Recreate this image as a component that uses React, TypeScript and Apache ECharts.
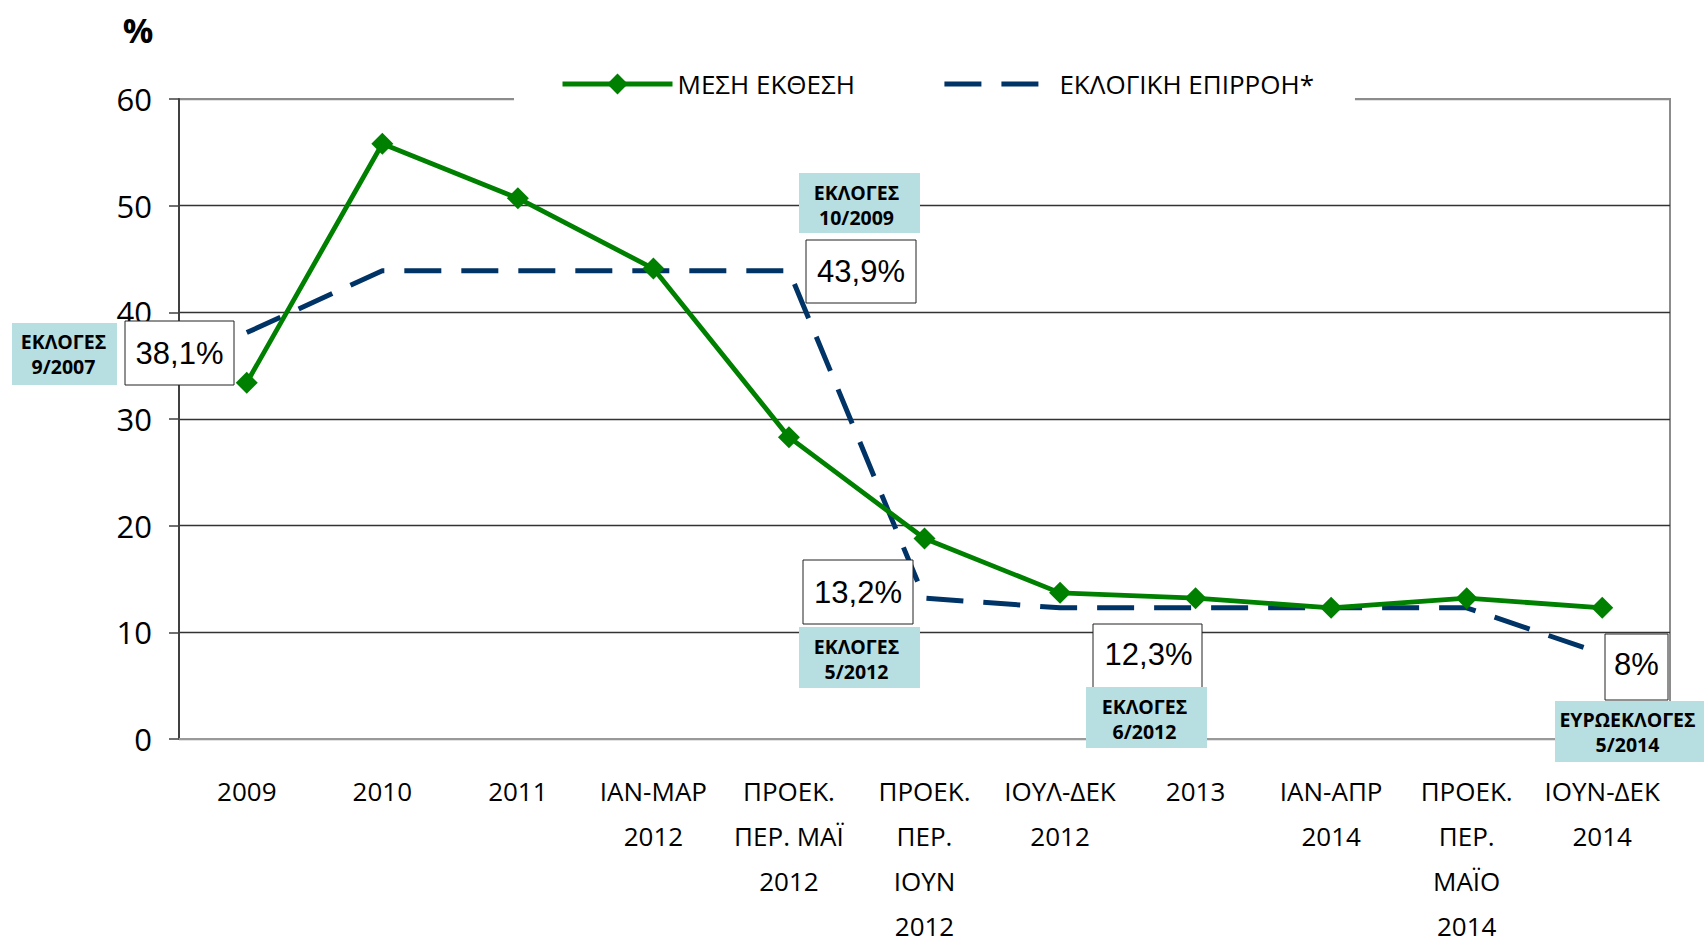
import React, { useEffect, useRef } from "react";
import * as echarts from "echarts";

// ---- data ----
const categories = [
  "2009",
  "2010",
  "2011",
  "ΙΑΝ-ΜΑΡ\n2012",
  "ΠΡΟΕΚ.\nΠΕΡ. ΜΑΪ\n2012",
  "ΠΡΟΕΚ.\nΠΕΡ.\nΙΟΥΝ\n2012",
  "ΙΟΥΛ-ΔΕΚ\n2012",
  "2013",
  "ΙΑΝ-ΑΠΡ\n2014",
  "ΠΡΟΕΚ.\nΠΕΡ.\nΜΑΪΟ\n2014",
  "ΙΟΥΝ-ΔΕΚ\n2014",
];
const averageExposure = [33.4, 55.8, 50.7, 44.1, 28.3, 18.8, 13.7, 13.2, 12.3, 13.2, 12.3];
const electoralInfluence = [38.1, 43.9, 43.9, 43.9, 43.9, 13.2, 12.3, 12.3, 12.3, 12.3, 8];
const seriesNames = ["ΜΕΣΗ ΕΚΘΕΣΗ", "ΕΚΛΟΓΙΚΗ ΕΠΙΡΡΟΗ*"];
const yMin = 0;
const yMax = 60;
const yInterval = 10;
const unitLabel = "%";
const electionLabels = [
  "ΕΚΛΟΓΕΣ\n9/2007",
  "ΕΚΛΟΓΕΣ\n10/2009",
  "ΕΚΛΟΓΕΣ\n5/2012",
  "ΕΚΛΟΓΕΣ\n6/2012",
  "ΕΥΡΩΕΚΛΟΓΕΣ\n5/2014",
];
const influenceLabels = ["38,1%", "43,9%", "13,2%", "12,3%", "8%"];

// ---- layout (annotation boxes, pixels) ----
const electionBoxes = [
  { x: 12, y: 323, w: 105, h: 62, dx: -1, dy: 0 },
  { x: 799, y: 173, w: 121, h: 60, dx: -3, dy: 2 },
  { x: 799, y: 627, w: 121, h: 61, dx: -3, dy: 1 },
  { x: 1086, y: 687, w: 121, h: 61, dx: -2, dy: 1 },
  { x: 1555, y: 701, w: 149, h: 61, dx: -2, dy: 0 },
];
const influenceBoxes = [
  { x: 125, y: 321, w: 109, h: 64, dx: 0, dy: 0 },
  { x: 806, y: 240, w: 110, h: 63, dx: 0, dy: 0 },
  { x: 803, y: 560, w: 110, h: 64, dx: 0, dy: 0 },
  { x: 1093, y: 624, w: 109, h: 66, dx: 1, dy: -3 },
  { x: 1605, y: 634, w: 63, h: 66, dx: 0, dy: -3 },
];

const FONT = '"Open Sans", "Noto Sans", sans-serif';
const GREEN = "#008000";
const NAVY = "#003366";
const TEAL = "#B7DEE0";

export default function App() {
  const ref = useRef<HTMLDivElement>(null);

  useEffect(() => {
    document.body.style.margin = "0";
    document.body.style.overflow = "hidden";
    if (!ref.current) return;
    const chart = echarts.init(ref.current, undefined, { renderer: "svg" });

    const graphics: any[] = [];
    graphics.push({
      type: "text",
      x: 138,
      y: 30,
      z: 120,
      style: {
        text: unitLabel,
        fontSize: 34,
        fontWeight: "bold",
        fontFamily: FONT,
        fill: "#000",
        align: "center",
        verticalAlign: "middle",
        textAlign: "center",
        textVerticalAlign: "middle",
      },
    });
    influenceBoxes.forEach((b, i) => {
      graphics.push({
        type: "rect",
        z: 100,
        shape: { x: b.x, y: b.y, width: b.w, height: b.h },
        style: { fill: "#fff", stroke: "#222", lineWidth: 1 },
      });
      graphics.push({
        type: "text",
        z: 101,
        x: b.x + b.w / 2 + b.dx,
        y: b.y + b.h / 2 + b.dy,
        style: {
          text: influenceLabels[i],
          fontSize: 31,
          fontFamily: '"Liberation Sans", Arial, sans-serif',
          fill: "#000",
          align: "center",
          verticalAlign: "middle",
          textAlign: "center",
          textVerticalAlign: "middle",
        },
      });
    });
    electionBoxes.forEach((b, i) => {
      graphics.push({
        type: "rect",
        z: 110,
        shape: { x: b.x, y: b.y, width: b.w, height: b.h },
        style: { fill: TEAL },
      });
      graphics.push({
        type: "text",
        z: 111,
        x: b.x + b.w / 2 + b.dx,
        y: b.y + b.h / 2 + b.dy,
        style: {
          text: electionLabels[i],
          fontSize: 19.5,
          fontWeight: "bold",
          fontFamily: FONT,
          lineHeight: 25,
          fill: "#000",
          align: "center",
          verticalAlign: "middle",
          textAlign: "center",
          textVerticalAlign: "middle",
        },
      });
    });

    const option: any = {
      animation: false,
      backgroundColor: "#fff",
      grid: {
        left: 179,
        right: 34,
        top: 99,
        bottom: 204,
        show: true,
        borderColor: "#8c8c8c",
        borderWidth: 2,
        backgroundColor: "transparent",
        containLabel: false,
        outerBoundsMode: "none",
      },
      legend: {
        show: true,
        left: 514,
        top: 57,
        orient: "horizontal",
        backgroundColor: "#fff",
        padding: [14, 41, 9, 46],
        itemGap: 87,
        itemWidth: 110,
        itemHeight: 26,
        selectedMode: false,
        textStyle: { fontSize: 26, fontFamily: FONT, color: "#000" },
        data: [
          {
            name: seriesNames[0],
            lineStyle: { width: 5, color: GREEN, type: "solid" },
            itemStyle: { color: GREEN, borderWidth: 0 },
          },
          {
            name: seriesNames[1],
            lineStyle: { width: 5, color: NAVY, type: [37, 20], cap: "butt" },
            itemStyle: { color: "rgba(0,0,0,0)", borderWidth: 0, opacity: 0 },
          },
        ],
      },
      xAxis: {
        type: "category",
        data: categories,
        boundaryGap: true,
        axisLine: { show: true, lineStyle: { color: "#999", width: 2 } },
        axisTick: { show: false },
        splitLine: { show: false },
        axisLabel: {
          interval: 0,
          fontSize: 26,
          fontFamily: FONT,
          color: "#000",
          lineHeight: 45,
          margin: 29,
        },
      },
      yAxis: {
        type: "value",
        min: yMin,
        max: yMax,
        interval: yInterval,
        axisLine: { show: true, lineStyle: { color: "#404040", width: 2 } },
        axisTick: { show: true, length: 10, lineStyle: { color: "#404040", width: 1.5 } },
        axisLabel: {
          fontSize: 31,
          fontFamily: FONT,
          color: "#000",
          margin: 27,
          padding: [0, 0, 6, 0],
        },
        splitLine: {
          show: true,
          lineStyle: {
            color: ["#8c8c8c", "#333", "#333", "#333", "#333", "#333", "#8c8c8c"],
            width: 1.3,
          },
        },
      },
      series: [
        {
          name: seriesNames[0],
          type: "line",
          data: averageExposure,
          symbol: "diamond",
          symbolSize: 22,
          color: GREEN,
          lineStyle: { width: 4.8, color: GREEN },
          itemStyle: { color: GREEN },
          emphasis: { disabled: true },
          z: 3,
        },
        {
          name: seriesNames[1],
          type: "line",
          data: electoralInfluence,
          symbol: "circle",
          showSymbol: false,
          color: NAVY,
          lineStyle: { width: 5, color: NAVY, type: [37, 20], cap: "butt" },
          itemStyle: { color: NAVY },
          emphasis: { disabled: true },
          z: 2,
        },
      ],
      graphic: { elements: graphics },
    };

    chart.setOption(option);
    return () => chart.dispose();
  }, []);

  return <div ref={ref} style={{ width: 1704, height: 943 }} />;
}
